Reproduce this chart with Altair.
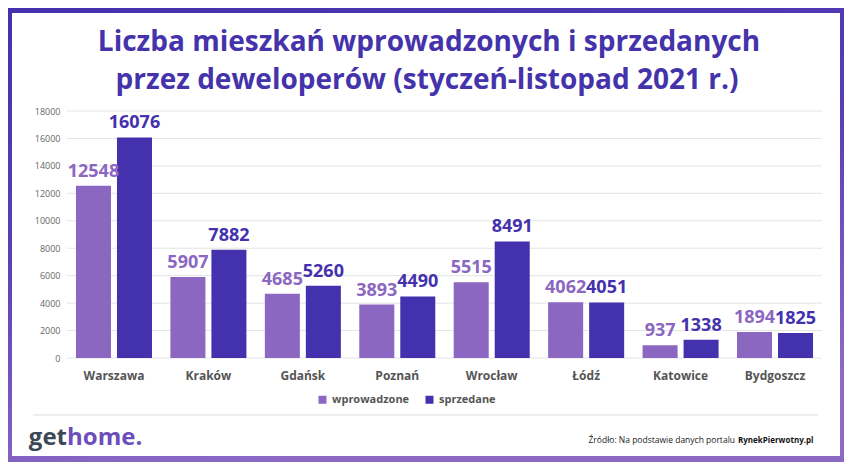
import altair as alt
import pandas as pd

cities = ["Warszawa", "Kraków", "Gdańsk", "Poznań", "Wrocław", "Łódź", "Katowice", "Bydgoszcz"]
wprowadzone = [12548, 5907, 4685, 3893, 5515, 4062, 937, 1894]
sprzedane = [16076, 7882, 5260, 4490, 8491, 4051, 1338, 1825]
series = ["wprowadzone", "sprzedane"]
colors = ["#8c67c1", "#4431ad"]
y_ticks = list(range(0, 18001, 2000))
title_lines = ["Liczba mieszkań wprowadzonych i sprzedanych",
               "przez deweloperów (styczeń-listopad 2021 r.)"]
source_regular = "Źródło: Na podstawie danych portalu"
source_bold = "RynekPierwotny.pl"

rows = []
for c, w, s in zip(cities, wprowadzone, sprzedane):
    rows.append({"miasto": c, "seria": "wprowadzone", "wartosc": w})
    rows.append({"miasto": c, "seria": "sprzedane", "wartosc": s})
df = pd.DataFrame(rows)
grid_df = pd.DataFrame({"wartosc": y_ticks})
one = pd.DataFrame({"a": [0]})

W, H = 755, 247
PL, PT, PR, PB = 59, 103, 22, 104

FONT = "Open Sans"

bg = alt.Chart(one).mark_rect(
    color=alt.LinearGradient(
        gradient="linear", x1=0, x2=0.3, y1=0, y2=1,
        stops=[alt.GradientStop(color="#4331ad", offset=0),
               alt.GradientStop(color="#5a3fb6", offset=0.5),
               alt.GradientStop(color="#8b69c5", offset=1)])
).encode(x=alt.value(-PL), x2=alt.value(W + PR), y=alt.value(-PT), y2=alt.value(H + PB))

card = alt.Chart(one).mark_rect(color="white").encode(
    x=alt.value(-55), x2=alt.value(773), y=alt.value(-98), y2=alt.value(345))

yscale = alt.Scale(domain=[0, 18000], nice=False)
yaxis = alt.Axis(title=None, values=y_ticks, format="d", labelFontSize=9,
                 labelColor="#666666", labelPadding=7, ticks=False,
                 labelOverlap=False, labelFlush=False,
                 domain=False, grid=False, labelFont=FONT, zindex=1)

grid = alt.Chart(grid_df).mark_rule(color="#e4e4e4", strokeWidth=1).encode(
    y=alt.Y("wartosc:Q", scale=yscale, axis=yaxis),
    x=alt.value(0), x2=alt.value(W))

xenc = alt.X("miasto:N", sort=cities,
             scale=alt.Scale(paddingInner=0.195, paddingOuter=0.095),
             axis=alt.Axis(title=None, labelAngle=0, labelFontWeight="bold",
                           labelFontSize=12, labelColor="#555555", labelPadding=12,
                           ticks=False, domain=False, labelFont=FONT, zindex=1))
yenc = alt.Y("wartosc:Q", scale=yscale, axis=yaxis)
xoff = alt.XOffset("seria:N", sort=series,
                   scale=alt.Scale(paddingInner=0.146, paddingOuter=0))
cscale = alt.Scale(domain=series, range=colors)

bars = alt.Chart(df).mark_bar().encode(
    x=xenc, y=yenc, xOffset=xoff,
    color=alt.Color("seria:N", scale=cscale, sort=series,
                    legend=alt.Legend(title=None, orient="none", direction="horizontal",
                                      legendX=250, legendY=283, symbolType="square",
                                      symbolSize=64, symbolStrokeWidth=0,
                                      labelFontSize=11, labelFontWeight="bold",
                                      labelColor="#555555", labelFont=FONT,
                                      columnPadding=14, symbolOffset=0))
)

labels = alt.Chart(df).mark_text(
    fontSize=18, fontWeight="bold", font=FONT, baseline="alphabetic", dy=-9
).encode(
    x=alt.X("miasto:N", sort=cities), y=yenc, xOffset=alt.XOffset("seria:N", sort=series),
    text="wartosc:Q",
    color=alt.Color("seria:N", scale=cscale, legend=None)
)

t1 = alt.Chart(one).mark_text(text=title_lines[0], fontSize=28, fontWeight="bold",
                              font=FONT, color="#4433aa", align="center",
                              baseline="alphabetic").encode(
    x=alt.value(362), y=alt.value(-60))
t2 = alt.Chart(one).mark_text(text=title_lines[1], fontSize=28, fontWeight="bold",
                              font=FONT, color="#4433aa", align="center",
                              baseline="alphabetic").encode(
    x=alt.value(360), y=alt.value(-22))

sep = alt.Chart(one).mark_rule(color="#dddddd", strokeWidth=1).encode(
    x=alt.value(-34), x2=alt.value(751), y=alt.value(304))

logo1 = alt.Chart(one).mark_text(text="get", fontSize=24, fontWeight="bold", font=FONT,
                                 color="#3d4855", align="right",
                                 baseline="alphabetic").encode(
    x=alt.value(0), y=alt.value(334))
logo2 = alt.Chart(one).mark_text(text="home.", fontSize=24, fontWeight="bold", font=FONT,
                                 color="#6c4dbb", align="left",
                                 baseline="alphabetic").encode(
    x=alt.value(0), y=alt.value(334))

src1 = alt.Chart(one).mark_text(text=source_regular, fontSize=8.5, font=FONT,
                                color="#222222", align="right",
                                baseline="alphabetic").encode(
    x=alt.value(668), y=alt.value(332))
src2 = alt.Chart(one).mark_text(text=source_bold, fontSize=8, fontWeight="bold",
                                font=FONT, color="#111111", align="left",
                                baseline="alphabetic").encode(
    x=alt.value(671), y=alt.value(332))

chart = alt.layer(bg, card, grid, bars, labels, t1, t2, sep, logo1, logo2, src1, src2).properties(
    width=W, height=H,
    autosize=alt.AutoSizeParams(type="none"),
    padding={"left": PL, "top": PT, "right": PR, "bottom": PB},
).configure_view(stroke=None).configure(background="white")

chart.save("out.html", embed_options={"renderer": "svg", "actions": False})
